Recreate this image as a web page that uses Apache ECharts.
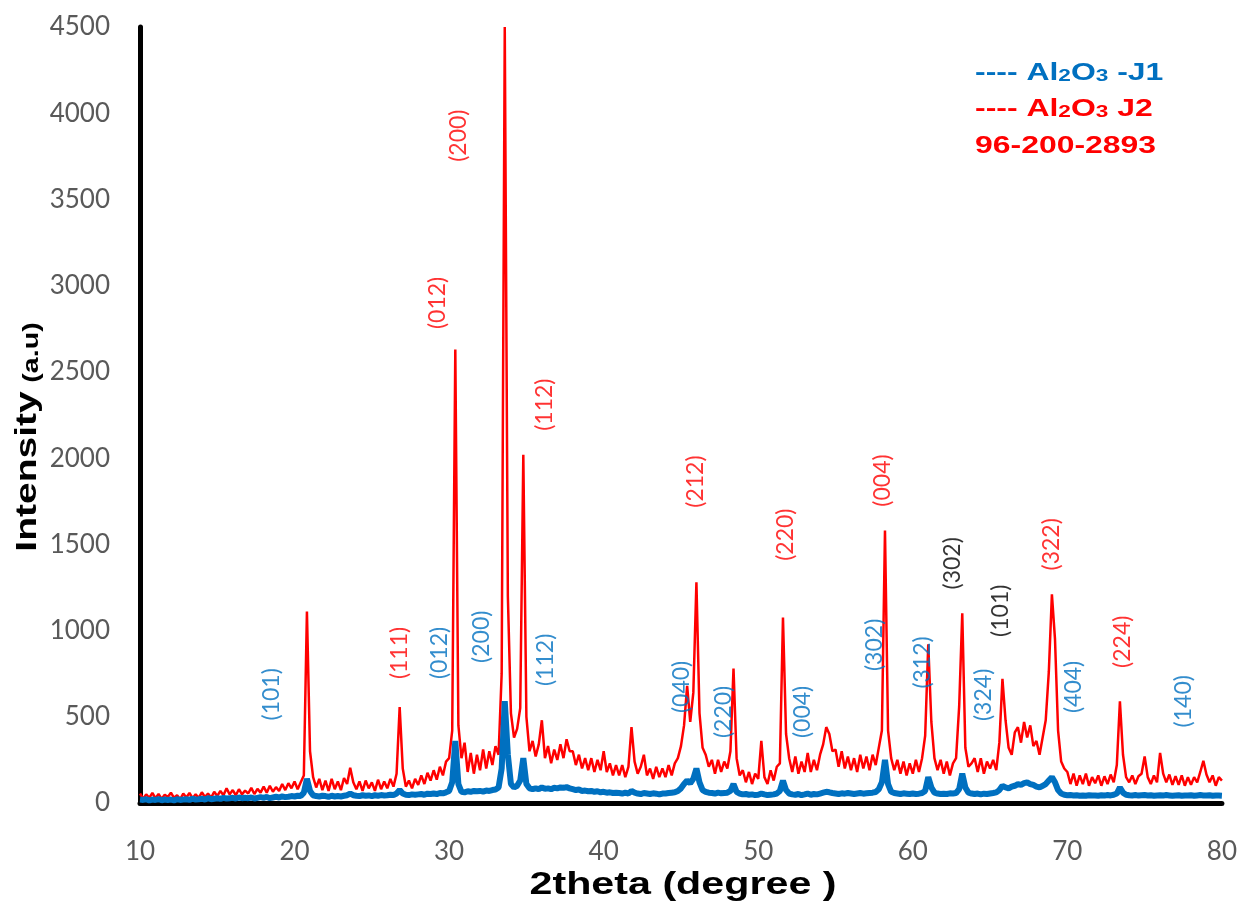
<!DOCTYPE html>
<html>
<head>
<meta charset="utf-8">
<title>XRD Al2O3</title>
<script src="https://cdn.jsdelivr.net/npm/echarts@6/dist/echarts.min.js"></script>
<style>
  html, body { margin: 0; padding: 0; background: #fff; }
  #main { width: 1240px; height: 901px; }
</style>
</head>
<body>
<div id="main"></div>
<script>
// 2theta sampling grid of the scan
const thetaStart = 10;
const thetaStep = 0.2;

// Al2O3 J2 (red), one row per degree: x.0 x.2 x.4 x.6 x.8
const intensityJ2 = [
  55, 25, 50, 30, 58,
  28, 52, 24, 48, 35,
  60, 30, 45, 22, 55,
  32, 58, 28, 50, 30,
  62, 35, 55, 30, 65,
  40, 70, 45, 85, 50,
  75, 45, 80, 50, 72,
  55, 88, 52, 82, 60,
  95, 60, 100, 65, 92,
  70, 110, 75, 115, 85,
  125, 80, 120, 160, 1110,    // 20
  300, 150, 90, 140, 75,
  130, 70, 140, 80, 125,
  75, 145, 110, 205, 120,
  80, 125, 70, 130, 85,
  120, 70, 135, 80, 125,
  85, 140, 95, 170, 556,
  200, 95, 130, 85, 140,
  105, 160, 110, 175, 130,
  190, 135, 210, 160, 240,
  260, 420, 2630, 450, 260,   // 30
  350, 180, 290, 170, 280,
  190, 310, 200, 300, 220,
  330, 280, 750, 4500, 1200,
  520, 380, 430, 550, 2020,
  500, 300, 360, 270, 340,
  480, 260, 330, 230, 310,
  250, 340, 260, 370, 300,
  300, 220, 280, 200, 260,
  190, 260, 180, 250, 190,
  300, 180, 230, 160, 220,    // 40
  160, 220, 150, 210, 440,
  240, 170, 210, 280, 160,
  200, 140, 210, 150, 200,
  150, 220, 160, 230, 260,
  330, 450, 680, 470, 640,
  1280, 520, 320, 280, 210,
  250, 170, 250, 180, 240,
  200, 300, 780, 260, 160,
  190, 120, 180, 110, 170,
  140, 360, 150, 110, 190,    // 50
  130, 210, 230, 1075, 400,
  260, 180, 270, 170, 240,
  180, 290, 180, 250, 190,
  280, 340, 440, 400, 300,
  310, 210, 300, 200, 270,
  190, 260, 180, 280, 200,
  270, 190, 280, 220, 320,
  420, 1580, 420, 260, 190,
  250, 170, 240, 160, 230,
  170, 250, 180, 260, 390,    // 60
  920, 470, 260, 190, 250,
  170, 240, 160, 230, 260,
  560, 1100, 320, 210, 230,
  260, 180, 260, 170, 240,
  200, 250, 190, 350, 720,
  480, 320, 280, 410, 440,
  350, 470, 380, 450, 330,
  360, 280, 380, 480, 760,
  1210, 950, 420, 240, 200,
  180, 110, 170, 100, 160,    // 70
  110, 170, 100, 150, 115,
  160, 100, 155, 110, 165,
  120, 220, 590, 280, 150,
  120, 160, 110, 155, 170,
  270, 150, 110, 160, 120,
  290, 170, 120, 165, 105,
  155, 105, 160, 100, 150,
  105, 150, 120, 180, 245,
  165, 120, 160, 100, 150,
  130                         // 80
];

// Al2O3 J1 (blue)
const intensityJ1 = [
  20, 18, 22, 15, 20,
  18, 22, 16, 20, 18,
  20, 15, 22, 18, 20,
  22, 18, 25, 20, 22,
  25, 20, 28, 22, 25,
  28, 24, 30, 26, 28,
  30, 26, 32, 28, 30,
  28, 32, 26, 30, 34,
  30, 35, 28, 32, 36,
  32, 38, 34, 36, 40,
  38, 42, 40, 60, 140,        // 20
  70, 45, 40, 38, 42,
  40, 36, 42, 38, 40,
  38, 42, 45, 55, 45,
  42, 40, 45, 42, 44,
  40, 45, 42, 46, 44,
  45, 48, 46, 55, 75,
  55, 48, 46, 50, 48,
  50, 52, 48, 54, 52,
  55, 52, 58, 56, 62,
  70, 120, 360, 110, 65,      // 30
  62, 68, 65, 70, 68,
  70, 66, 72, 70, 75,
  78, 90, 200, 590, 280,
  110, 90, 100, 130, 260,
  110, 85, 80, 85, 80,
  90, 82, 85, 80, 88,
  85, 90, 88, 92, 85,
  80, 75, 78, 70, 72,
  68, 70, 65, 68, 62,
  65, 60, 62, 58, 60,         // 40
  58, 55, 60, 55, 70,
  60, 55, 52, 58, 55,
  52, 56, 54, 50, 55,
  55, 58, 60, 62, 70,
  85, 110, 130, 115, 140,
  200, 120, 75, 65, 60,
  58, 55, 60, 56, 58,
  60, 70, 110, 65, 55,
  50, 52, 48, 50, 46,
  48, 55, 50, 46, 48,         // 50
  50, 55, 70, 130, 75,
  55, 50, 48, 52, 46,
  50, 55, 48, 52, 50,
  55, 60, 65, 62, 58,
  55, 52, 56, 54, 58,
  55, 52, 55, 58, 54,
  56, 58, 60, 64, 80,
  120, 250, 110, 65, 58,
  55, 52, 56, 54, 52,
  55, 52, 54, 58, 70,         // 60
  150, 90, 60, 55, 52,
  54, 52, 56, 55, 58,
  80, 170, 90, 60, 55,
  52, 55, 50, 54, 52,
  55, 58, 62, 75, 100,
  90, 85, 95, 100, 110,
  105, 115, 120, 110, 105,
  95, 90, 100, 110, 130,
  150, 120, 75, 55, 48,
  45, 46, 44, 45, 42,         // 70
  44, 42, 45, 43, 44,
  42, 45, 43, 46, 44,
  48, 55, 90, 60, 48,
  45, 44, 46, 43, 45,
  46, 44, 45, 42, 44,
  45, 43, 46, 44, 42,
  44, 45, 42, 44, 43,
  45, 42, 44, 46, 44,
  43, 45, 42, 44, 43,
  42                          // 80
];

// peak indices: [label, 2theta, intensity where the label sits]
const hklJ2 = [
  ['(111)', 26.8, 870], ['(012)', 29.26, 2900], ['(200)', 30.6, 3870],
  ['(112)', 36.15, 2310], ['(212)', 45.94, 1864], ['(220)', 51.76, 1556],
  ['(004)', 58.05, 1870], ['(322)', 68.95, 1500], ['(224)', 73.6, 935]
];
const hklRef = [
  ['(302)', 62.6, 1390], ['(101)', 65.66, 1115]
];
const hklJ1 = [
  ['(101)', 18.53, 630], ['(012)', 29.39, 870], ['(200)', 32.11, 964],
  ['(112)', 36.24, 830], ['(040)', 45.04, 673], ['(220)', 47.75, 528],
  ['(004)', 52.86, 528], ['(302)', 57.55, 917], ['(312)', 60.61, 815],
  ['(324)', 64.56, 627], ['(404)', 70.4, 673], ['(140)', 77.5, 590]
];

const RED = '#FF0000';
const BLUE = '#0070C0';
const toPairs = arr => arr.map((v, i) => [+(thetaStart + i * thetaStep).toFixed(1), v]);

function hklSeries(list, color) {
  return {
    type: 'scatter',
    silent: true,
    symbolSize: 1,
    itemStyle: { color: 'transparent' },
    z: 5,
    data: list.map(d => ({ name: d[0], value: [d[1], d[2]] })),
    label: {
      show: true,
      position: 'inside',
      rotate: 90,
      formatter: '{b}',
      color: color,
      fontSize: 23,
      fontFamily: 'Lato'
    }
  };
}

const myChart = echarts.init(document.getElementById('main'));
const option = {
  animation: false,
  backgroundColor: '#fff',
  grid: { left: 140, right: 17, top: 27, bottom: 98 },
  xAxis: {
    type: 'value',
    min: 10,
    max: 80,
    interval: 10,
    axisLine: { lineStyle: { color: '#000', width: 5 } },
    axisTick: { show: false },
    splitLine: { show: false },
    axisLabel: { color: '#595959', fontSize: 26, fontFamily: 'Lato', margin: 36 }
  },
  yAxis: {
    type: 'value',
    min: 0,
    max: 4500,
    interval: 500,
    axisLine: { show: true, lineStyle: { color: '#000', width: 5 } },
    axisTick: { show: false },
    splitLine: { show: false },
    axisLabel: {
      color: '#595959', fontSize: 26, fontFamily: 'Lato', margin: 30,
      formatter: v => String(v)
    }
  },
  series: [
    {
      name: 'Al2O3 J2',
      type: 'line',
      data: toPairs(intensityJ2),
      showSymbol: false,
      lineStyle: { color: RED, width: 2.5 },
      z: 2
    },
    {
      name: 'Al2O3 -J1',
      type: 'line',
      data: toPairs(intensityJ1),
      showSymbol: false,
      lineStyle: { color: BLUE, width: 6 },
      z: 3
    },
    hklSeries(hklJ2, RED),
    hklSeries(hklRef, '#000'),
    hklSeries(hklJ1, BLUE)
  ],
  graphic: [
    {
      type: 'text', x: 975, y: 73, scaleX: 1.33,
      style: {
        text: '---- Al{s|2}O{s|3} -J1', fill: BLUE, fontSize: 24, fontWeight: 'bold',
        fontFamily: 'Liberation Sans', align: 'left', verticalAlign: 'middle',
        rich: { s: { fill: BLUE, fontSize: 17, fontWeight: 'bold', fontFamily: 'Liberation Sans', verticalAlign: 'bottom' } }
      }
    },
    {
      type: 'text', x: 975, y: 109, scaleX: 1.33,
      style: {
        text: '---- Al{s|2}O{s|3} J2', fill: RED, fontSize: 24, fontWeight: 'bold',
        fontFamily: 'Liberation Sans', align: 'left', verticalAlign: 'middle',
        rich: { s: { fill: RED, fontSize: 17, fontWeight: 'bold', fontFamily: 'Liberation Sans', verticalAlign: 'bottom' } }
      }
    },
    {
      type: 'text', x: 975, y: 146, scaleX: 1.33,
      style: {
        text: '96-200-2893', fill: RED, fontSize: 24, fontWeight: 'bold',
        fontFamily: 'Liberation Sans', align: 'left', verticalAlign: 'middle'
      }
    },
    {
      type: 'text', x: 683, y: 885, scaleX: 1.33,
      style: {
        text: '2theta (degree )', fill: '#000', fontSize: 31, fontWeight: 'bold',
        fontFamily: 'Liberation Sans', align: 'center', verticalAlign: 'middle'
      }
    },
    {
      type: 'text', x: 28, y: 437, scaleX: 1.3, rotation: Math.PI / 2,
      style: {
        text: '{a|Intensity}  {b|(a.u)}', fill: '#000', align: 'center', verticalAlign: 'middle',
        rich: {
          a: { fill: '#000', fontSize: 30, fontWeight: 'bold', fontFamily: 'Liberation Sans', verticalAlign: 'bottom' },
          b: { fill: '#000', fontSize: 22, fontWeight: 'bold', fontFamily: 'Liberation Sans', verticalAlign: 'bottom' }
        }
      }
    }
  ]
};
myChart.setOption(option);
window.addEventListener('resize', () => myChart.resize());
</script>
</body>
</html>
